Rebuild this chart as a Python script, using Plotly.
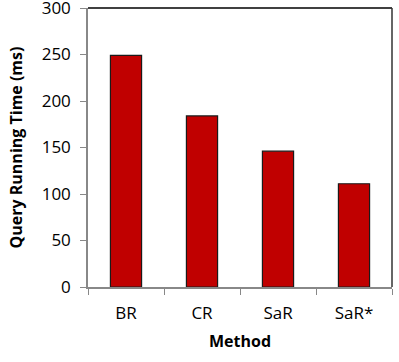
import plotly.graph_objects as go

methods = ["BR", "CR", "SaR", "SaR*"]
times = [249, 184, 146, 111]
y_ticks = [0, 50, 100, 150, 200, 250, 300]

fig = go.Figure()
fig.add_trace(go.Bar(
    x=methods, y=times, width=0.41,
    marker=dict(color="#C00000", line=dict(color="#1a1a1a", width=1.2)),
))

font_family = "'Open Sans', sans-serif"
fig.update_layout(
    width=399, height=362,
    margin=dict(l=88, r=7, t=8, b=75),
    plot_bgcolor="white", paper_bgcolor="white",
    showlegend=False,
    font=dict(family=font_family, color="black"),
    xaxis=dict(
        type="category", tickson="boundaries", automargin=False,
        ticks="outside", ticklen=6, tickcolor="#888888", tickwidth=1,
        ticklabelstandoff=10,
        showline=True, linecolor="#888888", linewidth=1.5,
        showgrid=False, tickfont=dict(size=17),
        title=dict(text="<b>Method</b>", font=dict(size=16), standoff=13),
    ),
    yaxis=dict(
        range=[0, 300], tickvals=y_ticks, automargin=False,
        ticklabeloverflow="allow", ticklabelstandoff=6,
        ticks="outside", ticklen=6, tickcolor="#888888", tickwidth=1,
        showline=True, linecolor="#888888", linewidth=1.5,
        showgrid=False, zeroline=False, tickfont=dict(size=17),
        title=dict(text="<b>Query Running Time (ms)</b>", font=dict(size=16), standoff=15),
    ),
    shapes=[
        dict(type="line", xref="paper", yref="paper", x0=0, x1=1, y0=1, y1=1,
             line=dict(color="black", width=1.5)),
        dict(type="line", xref="paper", yref="paper", x0=1, x1=1, y0=0, y1=1,
             line=dict(color="#333333", width=1.5)),
    ],
)

fig.write_html("out.html", config={"displayModeBar": False},
               post_script="document.body.style.margin='0';")
